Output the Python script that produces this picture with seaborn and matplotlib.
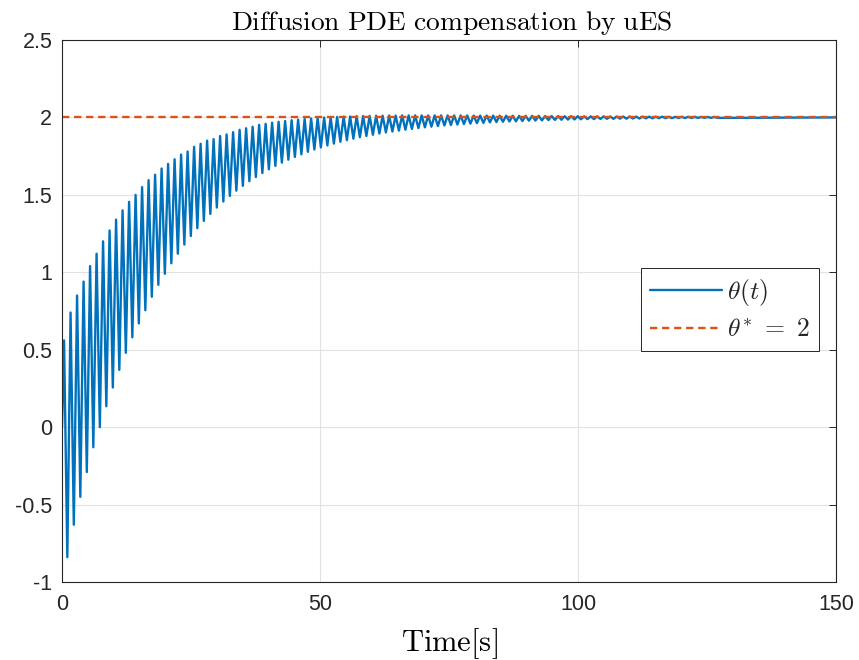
import numpy as np
import matplotlib
matplotlib.use("Agg")
import matplotlib.pyplot as plt
import seaborn as sns

# theta(t): peaks / troughs (one per oscillation cycle)
period = 1.26
first_peak_t = 0.4
first_trough_t = 1.03

peak_vals = [0.56, 0.74, 0.85, 0.94, 1.04, 1.12, 1.20, 1.27, 1.34, 1.40,
             1.455, 1.50, 1.55, 1.595, 1.63, 1.67, 1.70, 1.73, 1.76, 1.78,
             1.81, 1.83, 1.85, 1.86, 1.88, 1.89, 1.905, 1.92, 1.93, 1.94,
             1.952, 1.959, 1.966, 1.972, 1.977, 1.982, 1.986, 1.990, 1.993, 1.996,
             1.999, 2.001, 2.003, 2.005, 2.006, 2.008, 2.009, 2.010, 2.011, 2.011,
             2.012, 2.012, 2.013, 2.013, 2.013, 2.013, 2.013, 2.013, 2.013, 2.013,
             2.013, 2.013, 2.013, 2.012, 2.012, 2.012, 2.012, 2.011, 2.011, 2.011,
             2.010, 2.010, 2.010, 2.010, 2.009, 2.009, 2.009, 2.008, 2.008, 2.008,
             2.007, 2.007, 2.007, 2.007, 2.006, 2.006, 2.006, 2.006, 2.005, 2.005,
             2.005, 2.005, 2.005, 2.004, 2.004, 2.004, 2.004, 2.004, 2.003, 2.003,
             2.003]

trough_vals = [-0.84, -0.63, -0.45, -0.29, -0.13, 0.0, 0.135, 0.256, 0.37, 0.48,
               0.58, 0.67, 0.755, 0.842, 0.919, 0.990, 1.058, 1.120, 1.179, 1.234,
               1.285, 1.332, 1.377, 1.418, 1.457, 1.493, 1.527, 1.558, 1.588, 1.615,
               1.641, 1.665, 1.687, 1.708, 1.727, 1.745, 1.762, 1.778, 1.793, 1.806,
               1.819, 1.831, 1.843, 1.853, 1.863, 1.872, 1.880, 1.888, 1.896, 1.903,
               1.909, 1.915, 1.921, 1.926, 1.931, 1.936, 1.940, 1.944, 1.948, 1.951,
               1.954, 1.957, 1.960, 1.963, 1.965, 1.968, 1.970, 1.972, 1.974, 1.975,
               1.977, 1.979, 1.980, 1.981, 1.983, 1.984, 1.985, 1.986, 1.987, 1.988,
               1.989, 1.989, 1.990, 1.991, 1.991, 1.992, 1.992, 1.993, 1.993, 1.994,
               1.994, 1.995, 1.995, 1.995, 1.996, 1.996, 1.996, 1.997, 1.997, 1.997,
               1.997]

t_end = 150
theta_star = 2.0

x_ticks = [0, 50, 100, 150]
y_ticks = [-1, -0.5, 0, 0.5, 1, 1.5, 2, 2.5]
y_ticklabels = ["-1", "-0.5", "0", "0.5", "1", "1.5", "2", "2.5"]

# build the time series: start at 0, alternate peak / trough, then settle
k = np.arange(len(peak_vals))
t_peaks = first_peak_t + k * period
t_troughs = first_trough_t + k * period
t = np.concatenate([[0.0], np.column_stack([t_peaks, t_troughs]).ravel(), [t_end]])
theta = np.concatenate([[0.0], np.column_stack([peak_vals, trough_vals]).ravel(), [theta_star]])

sns.set_theme(style="white")
plt.rcParams["font.family"] = ["Liberation Sans", "DejaVu Sans"]
plt.rcParams["mathtext.fontset"] = "cm"
plt.rcParams["axes.unicode_minus"] = False

blue = "#0072BD"
orange = "#D95319"
dark = "#262626"

fig = plt.figure(figsize=(8.59, 6.6), dpi=100)
ax = fig.add_axes([62 / 859, 1 - 582 / 660, (836 - 62) / 859, (582 - 40) / 660])

sns.lineplot(x=t, y=theta, ax=ax, color=blue, lw=1.7, sort=False, estimator=None,
             label=r"$\theta(t)$")
sns.lineplot(x=[0, t_end], y=[theta_star, theta_star], ax=ax, color=orange, lw=1.7,
             dashes=False, label=r"$\theta^{*}\ =\ 2$")
ax.lines[1].set_linestyle((0, (3.1, 2.0)))

ax.set_xlim(0, 150)
ax.set_ylim(-1, 2.5)
ax.set_xticks(x_ticks)
ax.set_yticks(y_ticks)
ax.set_yticklabels(y_ticklabels)
ax.tick_params(direction="in", length=5, width=0.7, colors=dark, labelsize=15.5,
               top=True, right=True, pad=7)
ax.tick_params(axis="x", pad=9)
ax.grid(True, color="#e2e2e2", lw=0.8)
ax.set_axisbelow(True)
for s in ax.spines.values():
    s.set_color(dark)
    s.set_linewidth(0.8)

ax.set_title(r"$\mathrm{Diffusion\ PDE\ compensation\ by\ uES}$", fontsize=19.8,
             color="black", pad=7, x=0.504)
ax.set_xlabel(r"$\mathrm{Time[s]}$", fontsize=22, color="black", labelpad=7.5)

leg = ax.legend(loc="upper left", bbox_to_anchor=(641 / 859, 1 - 268 / 660),
                bbox_transform=fig.transFigure, borderaxespad=0, fontsize=18.5,
                handlelength=2.8, frameon=True, fancybox=False, framealpha=1,
                borderpad=0.35, labelspacing=0.4, handletextpad=0.2)
leg.get_frame().set_edgecolor(dark)
leg.get_frame().set_linewidth(0.7)

fig.savefig("out.png", dpi=100)
